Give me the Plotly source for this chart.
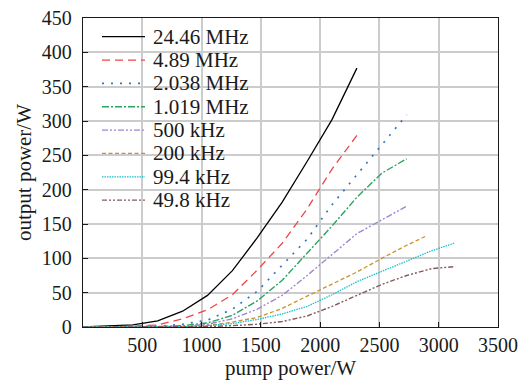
import plotly.graph_objects as go

# pump power (W) and output power (W) for each repetition rate
x_2446 = [0, 210, 420, 630, 840, 1050, 1260, 1470, 1680, 1890, 2100, 2310]
y_2446 = [0, 1, 3, 9, 23, 46, 82, 130, 182, 241, 302, 377]

x_489 = [0, 210, 420, 630, 840, 1050, 1260, 1470, 1680, 1890, 2100, 2310]
y_489 = [0, 0, 1, 3, 12, 25, 47, 83, 122, 172, 230, 279]

x_2038 = [0, 210, 420, 630, 840, 1050, 1260, 1470, 1680, 1890, 2100, 2310, 2520, 2730]
y_2038 = [0, 0, 0, 1, 4, 10, 26, 52, 90, 128, 178, 222, 265, 309]

x_1019 = [0, 210, 420, 630, 840, 1050, 1260, 1470, 1680, 1890, 2100, 2310, 2520, 2730]
y_1019 = [0, 0, 0, 0.5, 2, 6, 17, 38, 68, 108, 147, 189, 224, 245]

x_500 = [0, 210, 420, 630, 840, 1050, 1260, 1470, 1680, 1890, 2100, 2310, 2520, 2730]
y_500 = [0, 0, 0, 0, 1, 4, 12, 26, 46, 75, 106, 136, 156, 176]

x_200 = [0, 210, 420, 630, 840, 1050, 1260, 1470, 1680, 1890, 2100, 2310, 2520, 2730, 2900]
y_200 = [0, 0, 0, 0, 0.5, 2, 7, 14, 27, 45, 63, 80, 100, 119, 133]

x_994 = [0, 210, 420, 630, 840, 1050, 1260, 1470, 1680, 1890, 2100, 2310, 2520, 2730, 2940, 3130]
y_994 = [0, 0, 0, 0, 0.5, 2, 5, 11, 19, 30, 47, 66, 81, 97, 111, 122]

x_498 = [0, 210, 420, 630, 840, 1050, 1260, 1470, 1680, 1890, 2100, 2310, 2520, 2730, 2940, 3140]
y_498 = [0, 0, 0, 0, 0, 0.5, 2, 4, 8, 16, 30, 46, 62, 75, 85, 88]

names = ["24.46 MHz", "4.89 MHz", "2.038 MHz", "1.019 MHz",
         "500 kHz", "200 kHz", "99.4 kHz", "49.8 kHz"]
x_ticks = [500, 1000, 1500, 2000, 2500, 3000, 3500]

xs = [x_2446, x_489, x_2038, x_1019, x_500, x_200, x_994, x_498]
ys = [y_2446, y_489, y_2038, y_1019, y_500, y_200, y_994, y_498]
colors = ["#000000", "#ee4646", "#3474c4", "#28a460",
          "#a085d0", "#c8922c", "#16c0cc", "#845a5a"]
dashes = ["solid", "8px,5px", "2px,7px", "7px,2px,2px,2px",
          "6px,2px,2px,2px,2px,2px", "4px,2.5px", "1.5px,1px",
          "5px,2px,2px,2px,2px,2px"]
widths = [1.3, 1.3, 1.7, 1.4, 1.4, 1.3, 1.3, 1.4]

font = "Liberation Serif, Times New Roman, serif"
ink = "#1a1a1a"

fig = go.Figure()
for n, x, y, c, d, w in zip(names, xs, ys, colors, dashes, widths):
    fig.add_trace(go.Scatter(x=x, y=y, mode="lines", name=n, showlegend=False,
                             line=dict(color=c, width=w, dash=d)))

# plot area in pixels (for placing a legend like the reference one)
W, H = 528, 381
L, R, T, B = 83, 30, 18, 54
pw, ph = W - L - R, H - T - B

def px_x(px):
    return (px - L) / pw

def px_y(py):
    return (H - B - py) / ph

shapes = []
annotations = []
for i, (n, c, d, w) in enumerate(zip(names, colors, dashes, widths)):
    yc = 36.7 + 23.35 * i
    shapes.append(dict(type="line", xref="paper", yref="paper",
                       x0=px_x(102), x1=px_x(145), y0=px_y(yc), y1=px_y(yc),
                       line=dict(color=c, width=w, dash=d)))
    annotations.append(dict(xref="paper", yref="paper", x=px_x(151), y=px_y(yc),
                            xanchor="left", yanchor="middle", showarrow=False,
                            text=n, font=dict(family=font, size=21, color=ink)))

axis_common = dict(
    showline=True, linecolor=ink, linewidth=1.3, mirror=True,
    showgrid=True, gridcolor="#cccccc", gridwidth=1.5,
    ticks="inside", ticklen=5, tickcolor=ink, tickwidth=1.3,
    tickfont=dict(family=font, size=20, color=ink),
    zeroline=False, automargin=False,
)
fig.update_xaxes(range=[0, 3500], tickvals=x_ticks, ticklabelstandoff=0,
                 title=dict(text="pump power/W", font=dict(family=font, size=21, color=ink), standoff=2),
                 **axis_common)
fig.update_yaxes(range=[0, 450], dtick=50, ticklabelstandoff=6,
                 title=dict(text="output power/W", font=dict(family=font, size=21, color=ink), standoff=4),
                 **axis_common)

fig.update_layout(
    width=W, height=H,
    margin=dict(l=L, r=R, t=T, b=B),
    paper_bgcolor="white", plot_bgcolor="white",
    font=dict(family=font, color=ink),
    showlegend=False,
    shapes=shapes, annotations=annotations,
)
fig.write_html("out.html", config={"displayModeBar": False},
               post_script="document.body.style.margin='0';document.body.style.overflow='hidden';")
